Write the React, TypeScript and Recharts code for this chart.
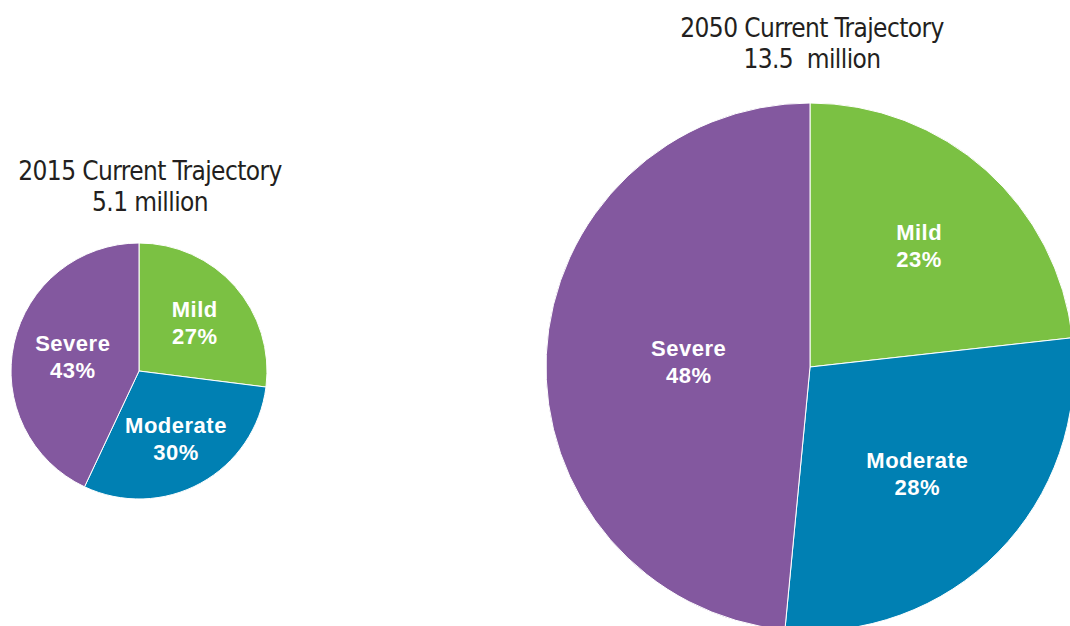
import { PieChart, Pie, Cell } from 'recharts';

// severity categories and their share of cases (%)
const categories = ['Mild', 'Moderate', 'Severe'];
const share2015 = [27, 30, 43];
const share2050 = [23, 28, 48];

const title2015 = ['2015 Current Trajectory', '5.1 million'];
const title2050 = ['2050 Current Trajectory', '13.5\u00a0 million'];

const COLORS = ['#7BC143', '#0080B3', '#83589F'];

// how far out (fraction of radius) each label sits
const labelPos2015 = [0.58, 0.6, 0.53];
const labelPos2050 = [0.62, 0.57, 0.46];

const RAD = Math.PI / 180;

const toRows = (vals: number[]) =>
  categories.map((name, i) => ({ name, value: vals[i] }));

const makeLabel = (fracs: number[]) => (props: any) => {
  const { cx, cy, midAngle, outerRadius, index, name, value } = props;
  const r = outerRadius * fracs[index];
  const x = cx + r * Math.cos(-midAngle * RAD);
  const y = cy + r * Math.sin(-midAngle * RAD);
  return (
    <text
      x={x}
      y={y}
      fill="#fff"
      textAnchor="middle"
      fontFamily='"Liberation Sans", Arial, sans-serif'
      fontWeight="bold"
      fontSize={22}
      letterSpacing={0.5}
    >
      <tspan x={x} dy={-5}>{name}</tspan>
      <tspan x={x} dy={27}>{value}%</tspan>
    </text>
  );
};

const titleStyle: React.CSSProperties = {
  position: 'absolute',
  width: 320,
  textAlign: 'center',
  fontFamily: '"Liberation Sans Narrow", "DejaVu Sans Condensed", sans-serif',
  fontSize: 26,
  letterSpacing: -0.6,
  lineHeight: '31px',
  color: '#231F20',
};

export default function App() {
  return (
    <div style={{ position: 'absolute', left: 0, top: 0, width: 1070, height: 626, overflow: 'hidden', background: '#fff' }}>
      <div style={{ ...titleStyle, left: 150 - 160, top: 156 }}>
        {title2015[0]}
        <br />
        {title2015[1]}
      </div>
      <div style={{ ...titleStyle, left: 812 - 160, top: 13 }}>
        {title2050[0]}
        <br />
        {title2050[1]}
      </div>
      <PieChart
        width={1070}
        height={626}
        margin={{ top: 0, right: 0, bottom: 0, left: 0 }}
        style={{ position: 'absolute', left: 0, top: 0 }}
      >
        <Pie
          data={toRows(share2015)}
          dataKey="value"
          nameKey="name"
          cx={139}
          cy={371}
          outerRadius={128}
          startAngle={90}
          endAngle={-270}
          stroke="#fff"
          strokeWidth={1}
          labelLine={false}
          label={makeLabel(labelPos2015)}
          isAnimationActive={false}
        >
          {categories.map((c, i) => (
            <Cell key={c} fill={COLORS[i]} />
          ))}
        </Pie>
        <Pie
          data={toRows(share2050)}
          dataKey="value"
          nameKey="name"
          cx={810}
          cy={367}
          outerRadius={264}
          startAngle={90}
          endAngle={-270}
          stroke="#fff"
          strokeWidth={1}
          labelLine={false}
          label={makeLabel(labelPos2050)}
          isAnimationActive={false}
        >
          {categories.map((c, i) => (
            <Cell key={c} fill={COLORS[i]} />
          ))}
        </Pie>
      </PieChart>
    </div>
  );
}
